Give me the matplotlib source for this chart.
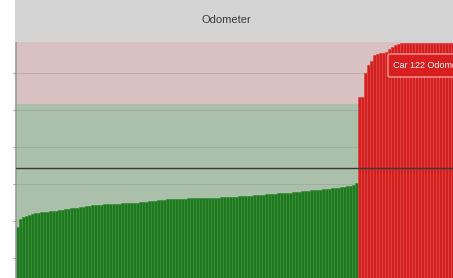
import matplotlib.pyplot as plt
from matplotlib.patches import Rectangle, FancyBboxPatch

# odometer readings (km), one bar per car, sorted
green_km = [
    36800, 41000, 42000, 42600, 43200, 43900, 44400, 44600, 44800, 44900,
    45100, 45200, 45400, 45600, 45800, 46100, 46300, 46600, 46800, 47000,
    47300, 47500, 47800, 48000, 48300, 48500, 48700, 48800, 48900, 49000,
    49100, 49200, 49300, 49400, 49400, 49500, 49600, 49700, 49700, 49800,
    49900, 50100, 50200, 50400, 50600, 50700, 50900, 51100, 51300, 51500,
    51700, 51900, 51900, 52000, 52000, 52100, 52100, 52200, 52200, 52200,
    52300, 52300, 52400, 52400, 52400, 52500, 52600, 52700, 52800, 52900,
    53000, 53100, 53100, 53200, 53300, 53400, 53500, 53500, 53600, 53800,
    54000, 54100, 54300, 54400, 54500, 54700, 54800, 54900, 55000, 55100,
    55300, 55400, 55600, 55700, 55900, 56000, 56200, 56300, 56500, 56700,
    56900, 57000, 57200, 57400, 57500, 57700, 57800, 58000, 58200, 58400,
    58700, 59100, 59600, 60500,
]
red_km = [
    107000, 107000, 120000, 124500, 126500, 129500, 130500, 130800, 131000, 131500,
    133000, 134300, 135300, 135900, 136300, 136300, 136300, 136300, 136300, 136300,
    136300, 136300, 136300, 136300, 136300, 136300, 136300, 136300, 136300, 136300,
    136300, 136300,
]
warn_level = 103200
limit_line = 68650
grid_levels = [20000, 40000, 60000, 80000, 100000, 120000]
title = "Odometer"
tooltip = "Car 122 Odometer"

W, H = 453, 278
fig = plt.figure(figsize=(W / 100, H / 100), dpi=100)
fig.patch.set_facecolor("white")

# grey title band
fig.patches.append(Rectangle((15 / W, 1 - 42 / H), 1, 42 / H, transform=fig.transFigure,
                             facecolor="#d4d4d4", edgecolor="none", zorder=0))
fig.text(226 / W, 1 - 20 / H, title, ha="center", va="center", fontsize=8,
         family="Liberation Sans", color="#3a3a3a")

ax = fig.add_axes([16 / W, 0, (W - 16) / W, (H - 42) / H])
ymin, ymax = 9200, 136750
ax.set_ylim(ymin, ymax)
n_g, n_r = len(green_km), len(red_km)
ax.set_xlim(-0.5, -0.5 + (W - 16) / 3)

# background bands
ax.axhspan(ymin, warn_level, color="#aac0aa", zorder=0, lw=0)
ax.axhspan(warn_level, ymax, color="#d9c0c1", zorder=0, lw=0)
for g in grid_levels:
    ax.axhline(g, color="#8a9a8a", lw=0.6, alpha=0.5, zorder=1)

ax.bar(range(n_g), green_km, width=1.0, color="#1f7a1f", edgecolor="#3d8f3d",
       linewidth=0.5, zorder=2)
ax.bar(range(n_g, n_g + n_r), red_km, width=1.0, color="#d41f1f", edgecolor="#e04545",
       linewidth=0.5, zorder=2)

ax.axhline(limit_line, color="#3a3a3a", lw=1.0, zorder=3)

for s in ["top", "right", "bottom"]:
    ax.spines[s].set_visible(False)
ax.spines["left"].set_color("#9a9a9a")
ax.spines["left"].set_linewidth(1.2)
ax.set_xticks([])
ax.set_yticks(grid_levels)
ax.set_yticklabels([])
ax.tick_params(axis="y", length=2, color="#9a9a9a")

# tooltip (runs off the right edge, as in the source screenshot)
fig.patches.append(FancyBboxPatch((388 / W, 1 - 77 / H), 80 / W, 23 / H,
                                  boxstyle="round,pad=0,rounding_size=0.005",
                                  transform=fig.transFigure, facecolor="#d81e1e",
                                  edgecolor="#f29a9a", lw=1.0, zorder=5))
fig.text(393 / W, 1 - 65 / H, tooltip, ha="left", va="center", fontsize=6.5,
         family="Liberation Sans", color="white", zorder=6)

fig.savefig("out.png", dpi=100)
